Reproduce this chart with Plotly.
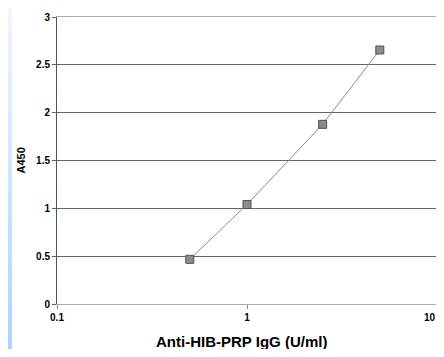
import plotly.graph_objects as go

# Data
concentration = [0.5, 1.0, 2.5, 5.0]   # Anti-HIB-PRP IgG (U/ml)
a450 = [0.467, 1.04, 1.878, 2.655]
x_ticks = [0.1, 1, 10]
x_tick_labels = ["0.1", "1", "10"]
y_ticks = [0, 0.5, 1, 1.5, 2, 2.5, 3]
y_tick_labels = ["0", "0.5", "1", "1.5", "2", "2.5", "3"]
x_title = "Anti-HIB-PRP IgG (U/ml)"
y_title = "A450"

# page is offset by the 8px default body margin; keep the page free of scrollbars
OFF = 8
W, H = 444 - OFF, 357 - 2 * OFF
L, T = 57 - OFF, 17 - OFF
R = W - (437 - OFF)
B = H - (304 - OFF)
pw, ph = W - L - R, H - T - B

def px_to_paper_x(px):
    return (px - OFF - L) / pw

def px_to_paper_y(py):
    return 1 - (py - OFF - T) / ph

def lerp(c1, c2, t):
    return "rgb(%d,%d,%d)" % tuple(round(a + (b - a) * t) for a, b in zip(c1, c2))

shapes = []
# left gradient strip (page x 8..12 visible)
top_c = (239, 246, 254)
bot_c = (170, 210, 253)
n = 60
for i in range(n):
    y0 = 8 + (357 - 8) * i / n
    y1 = 8 + (357 - 8) * (i + 1) / n
    t = (i + 0.5) / n
    shapes.append(dict(type="rect", xref="paper", yref="paper",
                       x0=px_to_paper_x(0), x1=px_to_paper_x(12),
                       y0=px_to_paper_y(y1 + 0.5), y1=px_to_paper_y(y0),
                       fillcolor=lerp(top_c, bot_c, t), line=dict(width=0), layer="below"))

font = "Liberation Sans, Arial, sans-serif"

# the last tick label is drawn right-aligned to its tick so it stays inside the visible page
shown_tick_text = x_tick_labels[:-1] + [""]

annotations = [
    dict(text="<b>%s</b>" % x_tick_labels[-1], xref="x", yref="paper",
         x=1, y=px_to_paper_y(317), xanchor="right", yanchor="middle",
         showarrow=False, xshift=1, font=dict(size=10, family=font, color="black")),
    dict(text="<b>%s</b>" % x_title, xref="paper", yref="paper",
         x=px_to_paper_x(241.5), y=px_to_paper_y(341), xanchor="center", yanchor="middle",
         showarrow=False, font=dict(size=15, family=font, color="black")),
    dict(text="<b>%s</b>" % y_title, xref="paper", yref="paper",
         x=px_to_paper_x(20.5), y=px_to_paper_y(161), xanchor="center", yanchor="middle",
         textangle=-90, showarrow=False, font=dict(size=11, family=font, color="black")),
]

fig = go.Figure()
fig.add_trace(go.Scatter(
    x=concentration, y=a450, mode="lines+markers",
    line=dict(color="#8a8a8a", width=1),
    marker=dict(symbol="square", size=8, color="#8c8c8c",
                line=dict(color="#505050", width=1)),
    showlegend=False,
))

fig.update_layout(
    width=W, height=H,
    margin=dict(l=L, r=R, t=T, b=B, autoexpand=False),
    paper_bgcolor="white", plot_bgcolor="white",
    shapes=shapes,
    annotations=annotations,
    font=dict(family=font, color="black"),
    xaxis=dict(
        type="log", range=[-1, 1], automargin=False,
        tickvals=x_ticks, ticktext=shown_tick_text,
        tickfont=dict(size=10, family=font, weight="bold"),
        ticklabeloverflow="allow",
        ticks="outside", ticklen=4, tickcolor="#888",
        showgrid=False, zeroline=False,
        showline=True, linecolor="#aaaaaa", linewidth=1, mirror=True,
    ),
    yaxis=dict(
        range=[0, 3], automargin=False,
        tickvals=y_ticks, ticktext=y_tick_labels,
        tickfont=dict(size=10, family=font, weight="bold"),
        ticks="outside", ticklen=4, tickcolor="#666",
        showgrid=True, gridcolor="#666666", gridwidth=1,
        zeroline=False,
        showline=True, linecolor="#555555", linewidth=1,
    ),
)

fig.write_html("out.html")
